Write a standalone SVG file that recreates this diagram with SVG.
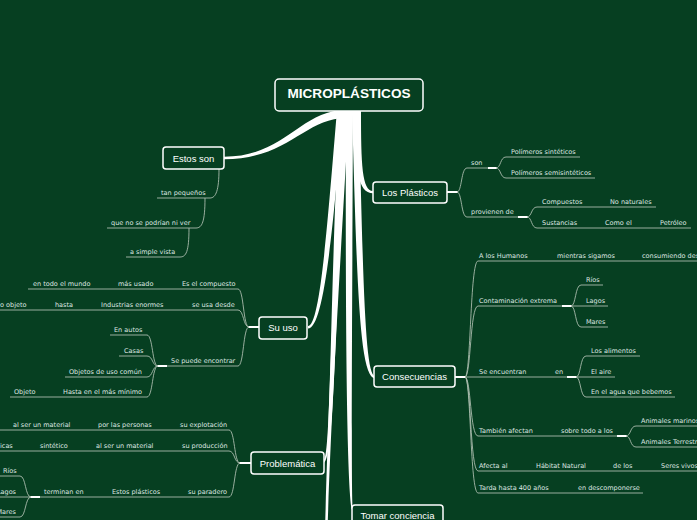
<svg xmlns="http://www.w3.org/2000/svg" width="697" height="520" viewBox="0 0 697 520">
<style>
.node rect{fill:#063f21;stroke:#ffffff;stroke-width:1.5}
.nt{font-family:"Liberation Sans",Arial,sans-serif;font-size:9.5px;fill:#ffffff;text-anchor:middle}
.title{font-family:"Liberation Sans",Arial,sans-serif;font-size:13.6px;font-weight:bold;fill:#ffffff;text-anchor:middle}
.t{font-family:"DejaVu Sans",Verdana,sans-serif;font-size:6.5px;fill:#dfe7e1}
.ul{fill:none;stroke:#a9bbad;stroke-width:0.9}
.stub{fill:none;stroke:#ffffff;stroke-width:2}
.main{fill:#ffffff;stroke:none}
</style>
<rect x="0" y="0" width="697" height="520" fill="#063f21"/>

<g id="connectors">
  <!-- main branches -->
  <path class="main" d="M346,110 C300,110 285,156.8 224,156.8 L224,159.3 C288,159.3 305,118 346,118 Z"/>
  <path class="main" d="M353,110 C355,170 358,193.2 373,193.2 L373,191 C362,191 361,165 361,110 Z"/>
  <path class="main" d="M337,110 C327,230 320,326 308,326 L308,328.5 C324,328.5 333,230 343,110 Z"/>
  <path class="main" d="M352,110 C357,280 359,378.2 375,378.2 L375,376 C365,376 363,280 359,110 Z"/>
  <path class="main" d="M339,110 C329,330 331,461 323,461 L323,463.2 C334.5,463.2 335,330 345,110 Z"/>
  <path class="main" d="M342,110 C333,300 328,420 325,530 L327.5,530 C331,420 338,300 349,110 Z"/>
  <path class="main" d="M346,110 C345,350 347.5,512 353,512 L353,510 C351,510 352,350 353,110 Z"/>

  <!-- Estos son -->
  <path class="ul" d="M219,169 C219,190 216,198 210,198 H157"/>
  <path class="ul" d="M205,198 C205,222 202,228 196,228 H107"/>
  <path class="ul" d="M189,228 C189,252 186,257 180,257 H126"/>

  <!-- Los Plasticos -->
  <path class="stub" d="M447,192 H458"/>
  <path class="ul" d="M457,192 C462,192 461,168 467,168 H497"/>
  <path class="ul" d="M457,192 C462,192 461,217 467,217 H528"/>
  <path class="stub" d="M488,168 H497"/>
  <path class="ul" d="M496,168 C501,168 500,157 506,157 H580"/>
  <path class="ul" d="M496,168 C501,168 500,178 506,178 H595"/>
  <path class="stub" d="M518,217 H528"/>
  <path class="ul" d="M527,217 C532,217 531,207 537,207 H656"/>
  <path class="ul" d="M527,217 C532,217 531,228 537,228 H691"/>

  <!-- Consecuencias -->
  <path class="stub" d="M455,377 H466"/>
  <path class="ul" d="M465,377 C471,377 470,261 478,261 H697"/>
  <path class="ul" d="M465,377 C471,377 470,306 478,306 H562"/>
  <path class="stub" d="M562,306 H572"/>
  <path class="ul" d="M571,306 C576,306 575,285 581,285 H603"/>
  <path class="ul" d="M571,306 H608"/>
  <path class="ul" d="M571,306 C576,306 575,327 581,327 H608"/>
  <path class="ul" d="M465,377 H567"/>
  <path class="stub" d="M567,377 H577"/>
  <path class="ul" d="M576,377 C581,377 580,356 586,356 H640"/>
  <path class="ul" d="M576,377 H615"/>
  <path class="ul" d="M576,377 C581,377 580,397 586,397 H675"/>
  <path class="ul" d="M465,377 C471,377 470,436 478,436 H627"/>
  <path class="stub" d="M617,436 H627"/>
  <path class="ul" d="M626,436 C631,436 630,426 636,426 H697"/>
  <path class="ul" d="M626,436 C631,436 630,447 636,447 H697"/>
  <path class="ul" d="M465,377 C471,377 470,471 478,471 H697"/>
  <path class="ul" d="M465,377 C471,377 470,493 478,493 H643"/>

  <!-- Su uso -->
  <path class="stub" d="M259,327 H248"/>
  <path class="ul" d="M249,327 C243,327 244,289 238,289 H28"/>
  <path class="ul" d="M249,327 C243,327 244,310 238,310 H0"/>
  <path class="ul" d="M249,327 C243,327 244,366 238,366 H167"/>
  <path class="stub" d="M167,366 H157"/>
  <path class="ul" d="M158,366 C152,366 153,335 147,335 H110"/>
  <path class="ul" d="M158,366 C152,366 153,356 147,356 H119"/>
  <path class="ul" d="M158,366 C152,366 153,377 147,377 H65"/>
  <path class="ul" d="M158,366 C152,366 153,397 147,397 H10"/>

  <!-- Problematica -->
  <path class="stub" d="M251,463 H239"/>
  <path class="ul" d="M240,463 C234,463 235,430 229,430 H0"/>
  <path class="ul" d="M240,463 C234,463 235,451 229,451 H0"/>
  <path class="ul" d="M240,463 C234,463 235,497 229,497 H40"/>
  <path class="stub" d="M40,497 H30"/>
  <path class="ul" d="M31,497 C25,497 26,476 20,476 H0"/>
  <path class="ul" d="M31,497 H0"/>
  <path class="ul" d="M31,497 C25,497 26,517 20,517 H0"/>
</g>

<g id="title">
  <rect x="275" y="79" width="148" height="32" rx="4" fill="#063f21" stroke="#ffffff" stroke-width="1.5"/>
  <text class="title" x="349" y="98">MICROPLÁSTICOS</text>
</g>

<g id="estos-son" class="node">
  <rect x="163" y="147" width="61" height="22" rx="3"/>
  <text class="nt" x="193.5" y="161.5">Estos son</text>
  <text class="t" x="161" y="195">tan pequeños</text>
  <text class="t" x="111" y="225">que no se podrían ni ver</text>
  <text class="t" x="130" y="254">a simple vista</text>
</g>

<g id="los-plasticos" class="node">
  <rect x="373" y="182" width="74" height="21" rx="3"/>
  <text class="nt" x="410" y="196">Los Plásticos</text>
  <text class="t" x="471" y="165">son</text>
  <text class="t" x="511" y="154">Polímeros sintéticos</text>
  <text class="t" x="511" y="175">Polímeros semisintéticos</text>
  <text class="t" x="471" y="214">provienen de</text>
  <text class="t" x="542" y="204">Compuestos</text>
  <text class="t" x="610" y="204">No naturales</text>
  <text class="t" x="542" y="225">Sustancias</text>
  <text class="t" x="605" y="225">Como el</text>
  <text class="t" x="660" y="225">Petróleo</text>
</g>

<g id="su-uso" class="node">
  <rect x="259" y="317" width="48" height="22" rx="3"/>
  <text class="nt" x="283" y="331">Su uso</text>
  <text class="t" x="33" y="286">en todo el mundo</text>
  <text class="t" x="118" y="286">más usado</text>
  <text class="t" x="182" y="286">Es el compuesto</text>
  <text class="t" x="0" y="307">o objeto</text>
  <text class="t" x="55" y="307">hasta</text>
  <text class="t" x="101" y="307">Industrias enormes</text>
  <text class="t" x="192" y="307">se usa desde</text>
  <text class="t" x="171" y="363">Se puede encontrar</text>
  <text class="t" x="114" y="332">En autos</text>
  <text class="t" x="124" y="353">Casas</text>
  <text class="t" x="69" y="374">Objetos de uso común</text>
  <text class="t" x="63" y="394">Hasta en el más mínimo</text>
  <text class="t" x="14" y="394">Objeto</text>
</g>

<g id="consecuencias" class="node">
  <rect x="374" y="366" width="81" height="21" rx="3"/>
  <text class="nt" x="414.5" y="380">Consecuencias</text>
  <text class="t" x="479" y="258">A los Humanos</text>
  <text class="t" x="557" y="258">mientras sigamos</text>
  <text class="t" x="642" y="258">consumiendo des</text>
  <text class="t" x="479" y="303">Contaminación extrema</text>
  <text class="t" x="586" y="282">Ríos</text>
  <text class="t" x="586" y="303">Lagos</text>
  <text class="t" x="586" y="324">Mares</text>
  <text class="t" x="479" y="374">Se encuentran</text>
  <text class="t" x="555" y="374">en</text>
  <text class="t" x="591" y="353">Los alimentos</text>
  <text class="t" x="591" y="374">El aire</text>
  <text class="t" x="591" y="394">En el agua que bebemos</text>
  <text class="t" x="479" y="433">También afectan</text>
  <text class="t" x="561" y="433">sobre todo a los</text>
  <text class="t" x="641" y="423">Animales marinos</text>
  <text class="t" x="641" y="444">Animales Terrestres</text>
  <text class="t" x="479" y="468">Afecta al</text>
  <text class="t" x="536" y="468">Hábitat Natural</text>
  <text class="t" x="613" y="468">de los</text>
  <text class="t" x="661" y="468">Seres vivos</text>
  <text class="t" x="479" y="490">Tarda hasta 400 años</text>
  <text class="t" x="578" y="490">en descomponerse</text>
</g>

<g id="problematica" class="node">
  <rect x="251" y="452" width="73" height="22" rx="3"/>
  <text class="nt" x="287.5" y="466.5">Problemática</text>
  <text class="t" x="13" y="427">al ser un material</text>
  <text class="t" x="98" y="427">por las personas</text>
  <text class="t" x="180" y="427">su explotación</text>
  <text class="t" x="0" y="448">icas</text>
  <text class="t" x="40" y="448">sintético</text>
  <text class="t" x="96" y="448">al ser un material</text>
  <text class="t" x="182" y="448">su producción</text>
  <text class="t" x="44" y="494">terminan en</text>
  <text class="t" x="112" y="494">Estos plásticos</text>
  <text class="t" x="188" y="494">su paradero</text>
  <text class="t" x="3" y="473">Ríos</text>
  <text class="t" x="16" y="494" text-anchor="end">Lagos</text>
  <text class="t" x="16" y="514" text-anchor="end">Mares</text>
</g>

<g id="tomar-conciencia" class="node">
  <rect x="352" y="505" width="91" height="22" rx="3"/>
  <text class="nt" x="397.5" y="519">Tomar conciencia</text>
</g>
</svg>
